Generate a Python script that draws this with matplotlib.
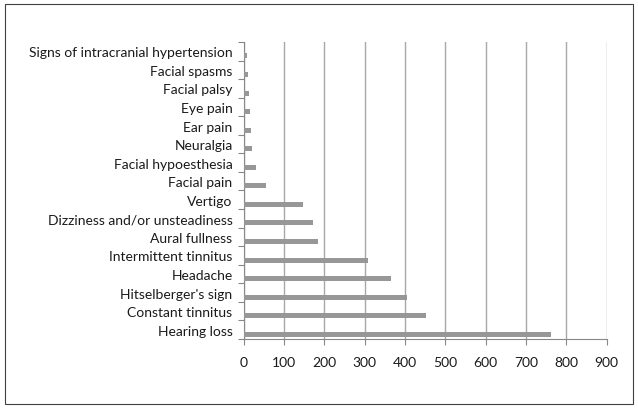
import numpy as np
import matplotlib.pyplot as plt
from matplotlib.patches import Rectangle

plt.rcParams['font.family'] = ['Lato', 'DejaVu Sans']

symptoms = ["Hearing loss", "Constant tinnitus", "Hitselberger's sign", "Headache",
            "Intermittent tinnitus", "Aural fullness", "Dizziness and/or unsteadiness",
            "Vertigo", "Facial pain", "Facial hypoesthesia", "Neuralgia", "Ear pain",
            "Eye pain", "Facial palsy", "Facial spasms", "Signs of intracranial hypertension"]
counts = [762, 452, 404, 365, 307, 185, 173, 147, 56, 30, 21, 18, 15, 12, 10, 7]
xticks = [0, 100, 200, 300, 400, 500, 600, 700, 800, 900]

fig = plt.figure(figsize=(6.38, 4.10), dpi=100)
fig.patches.append(Rectangle((0.008, 0.012), 0.984, 0.976, transform=fig.transFigure,
                             fill=False, edgecolor='#404040', linewidth=0.8))
ax = fig.add_axes([0.382, 0.171, 0.569, 0.724])

y = np.arange(len(symptoms))
# bars sit in the lower part of each category slot, as in the original
ax.barh(y - 0.25, counts, height=0.27, color='#979797', zorder=3)

ax.set_xlim(0, 900)
ax.set_ylim(-0.5, len(symptoms) - 0.5)
ax.set_xticks(xticks)
ax.set_xticklabels([str(v) for v in xticks], fontsize=10, color='#1a1a1a')
ax.set_yticks(y)
ax.set_yticklabels(symptoms, fontsize=10, color='#1a1a1a')
ax.set_yticks(np.arange(-0.5, len(symptoms)), minor=True)

ax.tick_params(axis='y', which='major', length=0, pad=8)
ax.tick_params(axis='y', which='minor', length=4, color='#888888', width=0.8)
ax.tick_params(axis='x', length=4, color='#888888', width=0.8, pad=8)

ax.grid(axis='x', color='#a8a8a8', linewidth=1.0, zorder=0)
for s in ['top', 'right']:
    ax.spines[s].set_visible(False)
for s in ['left', 'bottom']:
    ax.spines[s].set_color('#888888')
    ax.spines[s].set_linewidth(0.8)

fig.savefig('out.png', dpi=100)
